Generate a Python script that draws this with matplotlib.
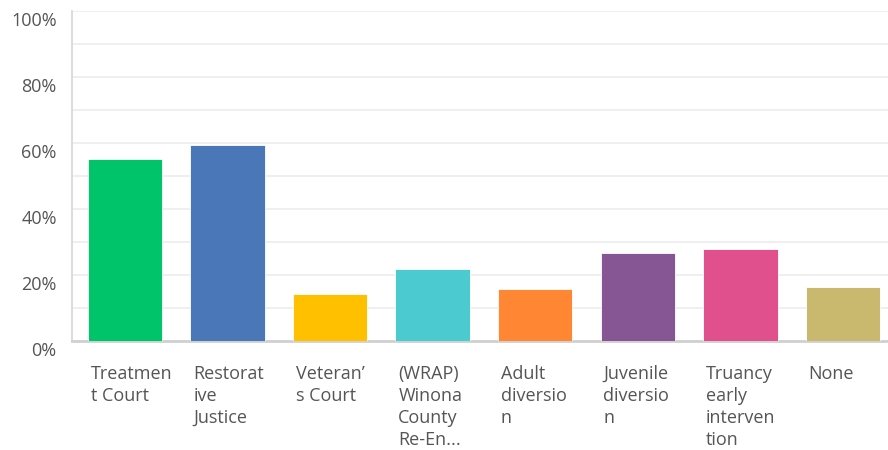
import numpy as np
import matplotlib.pyplot as plt
import matplotlib.transforms as mtransforms

# survey answers, share of respondents in percent
labels = ["Treatmen\nt Court", "Restorat\nive\nJustice", "Veteran\u2019\ns Court",
          "(WRAP)\nWinona\nCounty\nRe-En...", "Adult\ndiversio\nn",
          "Juvenile\ndiversio\nn", "Truancy\nearly\ninterven\ntion", "None"]
values = [55.2, 59.4, 14.3, 21.8, 15.7, 26.8, 27.9, 16.3]
colors = ["#00c46a", "#4a77b8", "#ffc000", "#4bcbd0", "#ff8733",
          "#865593", "#e0508d", "#c9b96f"]

plt.rcParams['font.family'] = ['Open Sans', 'DejaVu Sans']

fig = plt.figure(figsize=(8.88, 4.5), dpi=100)
ax = fig.add_axes([72/888, 1-341/450, 1-72/888, 330/450])

x = np.arange(len(values))
ax.bar(x, values, width=0.726, color=colors, edgecolor='white', linewidth=0.6, zorder=3)

ax.set_xlim(-0.517, 7.44)
ax.set_ylim(0, 100)
ax.set_yticks(np.arange(0, 101, 20))
ax.set_yticklabels(['{}%'.format(v) for v in range(0, 101, 20)])
ax.set_yticks(np.arange(10, 100, 20), minor=True)
ax.set_xticks([])
ax.tick_params(axis='y', which='both', length=0, pad=11, labelsize=13, labelcolor='#555555')
ax.grid(axis='y', which='both', color='#ececec', linewidth=1.2, zorder=0)

# percent labels sit a little below their gridlines
shift = mtransforms.ScaledTranslation(0, -8/100, fig.dpi_scale_trans)
for t in ax.get_yticklabels():
    t.set_transform(t.get_transform() + shift)

for s in ['top', 'right']:
    ax.spines[s].set_visible(False)
ax.spines['left'].set_color('#d6d6d6')
ax.spines['left'].set_linewidth(1.2)
ax.spines['bottom'].set_color('#d0d0d0')
ax.spines['bottom'].set_linewidth(2)

# category names wrapped under each bar, left aligned
for i, lab in enumerate(labels):
    ax.text(i - 0.335, -0.072, lab, transform=ax.get_xaxis_transform(),
            ha='left', va='top', fontsize=13, color='#555555', linespacing=1.3)

fig.savefig('out.png', dpi=100)
